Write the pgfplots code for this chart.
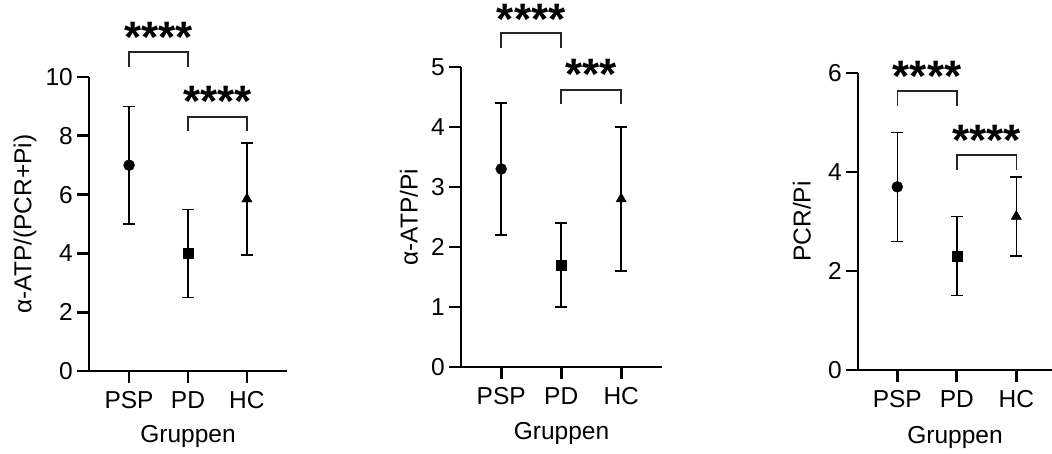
\documentclass[border=0pt]{standalone}
\usepackage{fontspec}
\setmainfont{Liberation Sans}
\usepackage{pgfplots}
\pgfplotsset{compat=1.18}
\newcommand{\lblfont}{\fontsize{24.5}{29}\selectfont}
\newcommand{\starfont}{\fontsize{44}{44}\selectfont\bfseries}
\pgfplotsset{
  myax/.style={
    scale only axis,
    clip=false,
    axis x line*=bottom,
    axis y line*=left,
    axis line style={line width=2.7pt, black},
    every tick/.style={line width=2.7pt, black},
    major tick length=12pt,
    tick align=outside,
    xtick={0,1,2},
    xticklabels={PSP,PD,HC},
    /pgf/number format/assume math mode=true,
    tick label style={font=\lblfont},
    label style={font=\lblfont},
    xticklabel style={anchor=center, inner sep=0pt, yshift=-17pt},
    yticklabel style={anchor=east, inner sep=0pt, xshift=-4pt},
    xlabel={Gruppen},
  },
  errp/.style={only marks, black, mark options={solid, line width=0.4pt, fill=black},
    error bars/.cd, y dir=both, y explicit,
    error bar style={line width=1.5pt, black},
    error mark options={rotate=90, line width=1.5pt, mark size=6pt, black},
    /pgfplots/.cd},
  brk/.style={line width=1.5pt, black!85, mark=none, sharp plot},
}
\begin{document}
\begin{tikzpicture}
\path[use as bounding box] (0,0) rectangle (1052pt,454pt);
% Panel 1
\begin{axis}[myax, at={(89pt,83pt)}, anchor=south west, width=198pt, height=294pt,
  xmin=-0.68, xmax=2.68, ymin=0, ymax=10, ytick={0,2,4,6,8,10},
  ylabel={α-ATP/(PCR+Pi)},
  ylabel style={at={(axis description cs:-0.323,0.5)}, anchor=center},
  xlabel style={at={(axis description cs:0.5,-0.224)}, anchor=center}]
\addplot+[errp, mark=*, mark size=5.5pt] coordinates {(0,7) +- (0,2)};
\addplot+[errp, mark=square*, mark size=5pt] coordinates {(1,4) +- (0,1.5)};
\addplot+[errp, mark=triangle*, mark size=6pt] coordinates {(2,5.85) +- (0,1.9)};
\addplot[brk] coordinates {(0,10.34) (0,10.85) (1,10.85) (1,10.34)};
\addplot[brk] coordinates {(1,8.16) (1,8.64) (2,8.64) (2,8.16)};
\node[anchor=base, yshift=-20pt, font=\starfont] at (axis cs:0.5,11.53) {****};
\node[anchor=base, yshift=-20pt, font=\starfont] at (axis cs:1.5,9.32) {****};
\end{axis}
% Panel 2
\begin{axis}[myax, at={(461pt,87pt)}, anchor=south west, width=201pt, height=300pt,
  xmin=-0.67, xmax=2.68, ymin=0, ymax=5, ytick={0,1,2,3,4,5},
  ylabel={α-ATP/Pi},
  ylabel style={at={(axis description cs:-0.259,0.5)}, anchor=center},
  xlabel style={at={(axis description cs:0.5,-0.22)}, anchor=center}]
\addplot+[errp, mark=*, mark size=5.5pt] coordinates {(0,3.3) +- (0,1.1)};
\addplot+[errp, mark=square*, mark size=5pt] coordinates {(1,1.7) +- (0,0.7)};
\addplot+[errp, mark=triangle*, mark size=6pt] coordinates {(2,2.8) +- (0,1.2)};
\addplot[brk] coordinates {(0,5.32) (0,5.57) (1,5.57) (1,5.32)};
\addplot[brk] coordinates {(1,4.38) (1,4.62) (2,4.62) (2,4.38)};
\node[anchor=base, yshift=-20pt, font=\starfont] at (axis cs:0.5,5.88) {****};
\node[anchor=base, yshift=-20pt, font=\starfont] at (axis cs:1.5,4.95) {***};
\end{axis}
% Panel 3
\begin{axis}[myax, at={(858pt,84pt)}, anchor=south west, width=194pt, height=297pt,
  xmin=-0.66, xmax=2.6, ymin=0, ymax=6, ytick={0,2,4,6},
  ylabel={PCR/Pi},
  ylabel style={at={(axis description cs:-0.289,0.5)}, anchor=center},
  xlabel style={at={(axis description cs:0.5,-0.226)}, anchor=center}]
\addplot+[errp, mark=*, mark size=5.5pt] coordinates {(0,3.7) +- (0,1.1)};
\addplot+[errp, mark=square*, mark size=5pt] coordinates {(1,2.3) +- (0,0.8)};
\addplot+[errp, mark=triangle*, mark size=6pt] coordinates {(2,3.1) +- (0,0.8)};
\addplot[brk] coordinates {(0,5.33) (0,5.64) (1,5.64) (1,5.33)};
\addplot[brk] coordinates {(1,4.04) (1,4.34) (2,4.34) (2,4.04)};
\node[anchor=base, yshift=-20pt, font=\starfont] at (axis cs:0.5,6.04) {****};
\node[anchor=base, yshift=-20pt, font=\starfont] at (axis cs:1.5,4.73) {****};
\end{axis}
\end{tikzpicture}
\end{document}
